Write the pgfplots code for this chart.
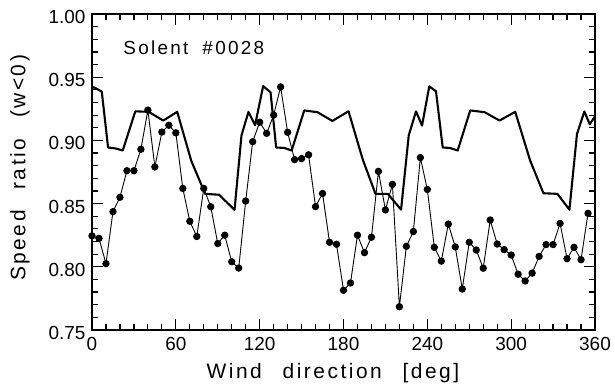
\documentclass[border=0pt]{standalone}
\usepackage{fontspec}
\setmainfont{Liberation Sans}
\newfontfamily\labfont{Liberation Sans}[LetterSpace=12,WordSpace=2.5]
\usepackage{pgfplots}
\pgfplotsset{compat=1.18}

% measured speed ratio, every 5 degrees
\pgfplotstableread{
dir ratio
0   0.8245
5   0.8225
10  0.8025
15  0.8436
20  0.8550
25  0.8760
30  0.8760
35  0.8930
40  0.9240
45  0.8790
50  0.9066
55  0.9120
60  0.9060
65  0.8620
70  0.8360
75  0.8240
80  0.8620
85  0.8475
90  0.8184
95  0.8250
100 0.8040
105 0.7990
110 0.8520
115 0.8990
120 0.9144
125 0.9056
130 0.9200
135 0.9423
140 0.9064
145 0.8848
150 0.8856
155 0.8886
160 0.8476
165 0.8580
170 0.8194
175 0.8178
180 0.7814
185 0.7872
190 0.8250
195 0.8112
200 0.8234
205 0.8755
210 0.8450
215 0.8652
220 0.7684
225 0.8162
230 0.8279
235 0.8864
240 0.8612
245 0.8154
250 0.8045
255 0.8338
260 0.8157
265 0.7824
270 0.8194
275 0.8133
280 0.7989
285 0.8370
290 0.8180
295 0.8136
300 0.8093
305 0.7941
310 0.7888
315 0.7950
320 0.8082
325 0.8176
330 0.8176
335 0.8343
340 0.8064
345 0.8154
350 0.8056
355 0.8423
}\measured

% model curve
\pgfplotstableread{
dir ratio
0     0.9415
1.5   0.9420
7     0.9385
11.5  0.8944
17    0.8936
22    0.8920
31    0.9230
40.5  0.9226
51    0.9157
61    0.9226
71    0.8840
81    0.8577
91    0.8570
102   0.8450
107   0.9040
112   0.9226
116.7 0.9120
122.5 0.9430
127.8 0.9380
131.8 0.8944
137.7 0.8940
142.9 0.8920
151.9 0.9237
161.4 0.9223
172   0.9154
183.6 0.9230
193.8 0.8848
202.9 0.8577
211.7 0.8577
221.2 0.8452
226.7 0.9040
231.9 0.9230
236.2 0.9117
241.4 0.9428
246.2 0.9388
251   0.8944
256.2 0.8940
261.7 0.8920
270.7 0.9237
281   0.9223
291.7 0.9157
302.9 0.9226
313.6 0.8840
323.1 0.8582
333.1 0.8577
341.7 0.8452
347.1 0.9050
352.4 0.9229
356.2 0.9128
360   0.9190
}\model

\begin{document}
\begin{tikzpicture}
\useasboundingbox (0,0) rectangle (615bp,389bp);
\begin{axis}[
  at={(92bp,59bp)}, anchor=south west,
  scale only axis, width=503bp, height=316bp,
  xmin=0, xmax=360, ymin=0.75, ymax=1.00,
  xtick={0,60,120,180,240,300,360},
  ytick={0.75,0.80,0.85,0.90,0.95,1.00},
  minor x tick num=5, minor y tick num=4,
  tick align=inside,
  major tick length=11bp, minor tick length=6bp,
  axis line style={line width=1.3bp},
  every tick/.style={line width=1.2bp, black},
  /pgf/number format/assume math mode=true,
  ticklabel style={font=\fontsize{19}{19}\selectfont},
  yticklabel style={/pgf/number format/fixed, /pgf/number format/fixed zerofill,
    /pgf/number format/precision=2, yshift=-3bp, xshift=-3bp},
  xticklabel style={yshift=-4bp},
  xlabel={\labfont Wind direction [deg]},
  ylabel={\labfont Speed ratio (w<0)},
  label style={font=\fontsize{21}{21}\selectfont},
  xlabel style={at={(axis description cs:0.479,-0.155)}, anchor=base},
  ylabel style={at={(axis description cs:-0.143,0.513)}, anchor=center, rotate=0},
  clip=false,
]
\addplot[black, line width=2.1bp, line join=round] table[x=dir, y=ratio] {\model};
\addplot[black, line width=0.9bp, mark=*, mark size=3.2bp] table[x=dir, y=ratio] {\measured};
\node[anchor=west, font=\labfont\fontsize{19}{19}\selectfont] at (axis cs:20,0.973) {Solent\hspace{14bp}\#0028};
\end{axis}
\end{tikzpicture}
\end{document}
